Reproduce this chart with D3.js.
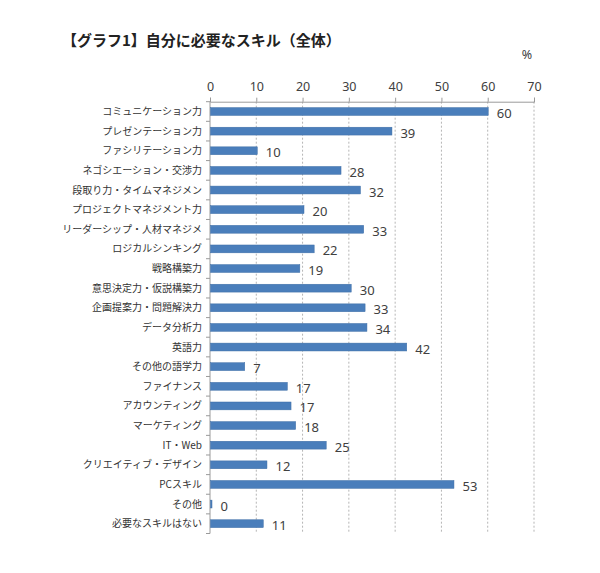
<!DOCTYPE html>
<html><head><meta charset="utf-8">
<script src="https://cdn.jsdelivr.net/npm/d3@7"></script>
<style>body{margin:0;background:#fff}svg{display:block}</style>
</head><body>
<script>
const title = "【グラフ1】自分に必要なスキル（全体）";
const categories = ["コミュニケーション力","プレゼンテーション力","ファシリテーション力","ネゴシエーション・交渉力","段取り力・タイムマネジメン","プロジェクトマネジメント力","リーダーシップ・人材マネジメ","ロジカルシンキング","戦略構築力","意思決定力・仮説構築力","企画提案力・問題解決力","データ分析力","英語力","その他の語学力","ファイナンス","アカウンティング","マーケティング","IT・Web","クリエイティブ・デザイン","PCスキル","その他","必要なスキルはない"];
const values = [60.0, 39.2, 10.1, 28.2, 32.4, 20.2, 33.1, 22.4, 19.3, 30.4, 33.4, 33.8, 42.4, 7.4, 16.6, 17.4, 18.4, 25.0, 12.2, 52.6, 0.3, 11.4];
const xTicks = [0,10,20,30,40,50,60,70];
const unitLabel = "%";

(function(){
const W = 600, H = 573;
const svg = d3.select("body").append("svg").attr("width", W).attr("height", H);
const pl = 210, pr = 534, pt = 101.7, pb = 533.5;

const x = d3.scaleLinear().domain([0,70]).range([pl,pr]);
const y = d3.scaleBand().domain(categories).range([pt,pb]).paddingInner(0.6).paddingOuter(0.3);

const textColor = "#404040";

svg.append("text").attr("x", 62).attr("y", 46)
  .attr("font-family","'Noto Sans CJK JP', sans-serif").attr("font-weight","bold")
  .attr("font-size", 15).attr("fill","#222").text(title);

svg.append("text").attr("x", 527).attr("y", 59).attr("text-anchor","middle")
  .attr("font-family","'Noto Sans', sans-serif").attr("font-size", 12.5).attr("fill", textColor).text(unitLabel);

// gridlines
svg.append("g").selectAll("line").data(xTicks.filter(d=>d>0)).join("line")
  .attr("x1", d=>x(d)).attr("x2", d=>x(d)).attr("y1", pt).attr("y2", pb)
  .attr("stroke","#b5b5b5").attr("stroke-width",1).attr("stroke-dasharray","2,2");

// top axis
const xAxis = d3.axisTop(x).tickValues(xTicks).tickSize(4).tickPadding(7);
const gx = svg.append("g").attr("transform",`translate(0,${pt})`).call(xAxis);
gx.select(".domain").attr("stroke","#9a9a9a");
gx.selectAll(".tick line").attr("stroke","#9a9a9a");
gx.selectAll(".tick text").attr("font-family","'Noto Sans', sans-serif").attr("font-size",12.5).attr("fill",textColor);

// left axis line
svg.append("line").attr("x1",pl).attr("x2",pl).attr("y1",pt).attr("y2",pb).attr("stroke","#9a9a9a");
const bounds = d3.range(categories.length+1).map(i => pt + (pb-pt)*i/categories.length);
svg.append("g").selectAll("line").data(bounds).join("line")
  .attr("x1", pl-4).attr("x2", pl).attr("y1", d=>d).attr("y2", d=>d).attr("stroke","#9a9a9a");

// category labels
svg.append("g").selectAll("text").data(categories).join("text")
  .attr("x", 202).attr("y", d => y(d) + y.bandwidth()/2).attr("dy","0.35em")
  .attr("text-anchor","end").attr("font-family","'Noto Sans CJK JP', sans-serif")
  .attr("font-size",10).attr("fill","#333").text(d=>d);

// bars
svg.append("g").selectAll("rect").data(values).join("rect")
  .attr("x", x(0)+0.5).attr("y", (d,i)=>y(categories[i]))
  .attr("width", d => Math.max(1.5, x(d)-x(0))).attr("height", y.bandwidth())
  .attr("fill","#4a7ebb").attr("stroke","#3e6ea6").attr("stroke-width",0.5);

// value labels
svg.append("g").selectAll("text").data(values).join("text")
  .attr("x", d => x(d) + 9).attr("y", (d,i)=>y(categories[i]) + y.bandwidth()/2 + 2).attr("dy","0.35em")
  .attr("font-family","'Noto Sans', sans-serif").attr("font-size",13).attr("fill",textColor)
  .text(d => Math.round(d));
})();
</script>
</body></html>
